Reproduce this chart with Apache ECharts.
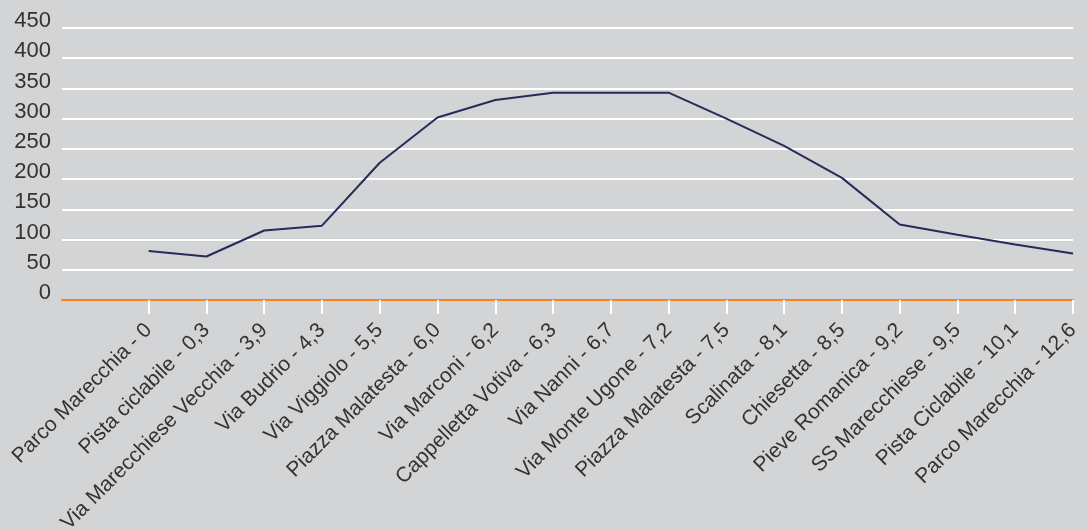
<!DOCTYPE html>
<html>
<head>
<meta charset="utf-8">
<script src="https://cdn.jsdelivr.net/npm/echarts@6/dist/echarts.min.js"></script>
<style>
  html, body { margin: 0; padding: 0; background: #d3d4d6; }
  #chart { width: 1088px; height: 530px; }
</style>
</head>
<body>
<div id="chart"></div>
<script>
// Route stops (name - km) and elevation in metres
const stops = [
  'Parco Marecchia - 0',
  'Pista ciclabile - 0,3',
  'Via Marecchiese Vecchia - 3,9',
  'Via Budrio - 4,3',
  'Via Viggiolo - 5,5',
  'Piazza Malatesta - 6,0',
  'Via Marconi - 6,2',
  'Cappelletta Votiva - 6,3',
  'Via Nanni - 6,7',
  'Via Monte Ugone - 7,2',
  'Piazza Malatesta - 7,5',
  'Scalinata - 8,1',
  'Chiesetta - 8,5',
  'Pieve Romanica - 9,2',
  'SS Marecchiese - 9,5',
  'Pista Ciclabile - 10,1',
  'Parco Marecchia - 12,6'
];
const elevation = [81, 72, 115, 123, 227, 302, 331, 343, 343, 343, 300, 255, 202, 125, 108, 92, 77];
const yTicks = [0, 50, 100, 150, 200, 250, 300, 350, 400, 450];

const stopIndex = stops.map((_, i) => i);
const FONT = "'Liberation Sans', Arial, sans-serif";

const chart = echarts.init(document.getElementById('chart'));
chart.setOption({
  backgroundColor: '#d3d4d6',
  animation: false,
  grid: {
    left: 62, right: 15, top: 28, bottom: 230,
    containLabel: false,
    outerBoundsMode: 'none'
  },
  xAxis: {
    type: 'value',
    min: -1.5,
    max: stops.length - 1,
    splitLine: { show: false },
    axisLine: { show: true, lineStyle: { color: '#f7821f', width: 2 } },
    axisTick: {
      show: true,
      customValues: stopIndex,
      length: 14,
      lineStyle: { color: '#ffffff', width: 2 }
    },
    axisLabel: {
      customValues: stopIndex,
      rotate: 45,
      margin: 27,
      color: '#333333',
      fontFamily: FONT,
      fontSize: 21,
      formatter: (v) => stops[v] ?? ''
    }
  },
  yAxis: {
    type: 'value',
    min: yTicks[0],
    max: yTicks[yTicks.length - 1],
    interval: 50,
    axisLine: { show: false },
    axisTick: { show: false },
    splitLine: { show: true, lineStyle: { color: '#ffffff', width: 2 } },
    axisLabel: {
      color: '#333333',
      fontFamily: FONT,
      fontSize: 22,
      margin: 11,
      verticalAlign: 'bottom',
      lineHeight: 14
    }
  },
  series: [{
    type: 'line',
    data: elevation.map((v, i) => [i, v]),
    symbol: 'none',
    lineStyle: { color: '#2b2959', width: 2 },
    z: 3
  }]
});
</script>
</body>
</html>
